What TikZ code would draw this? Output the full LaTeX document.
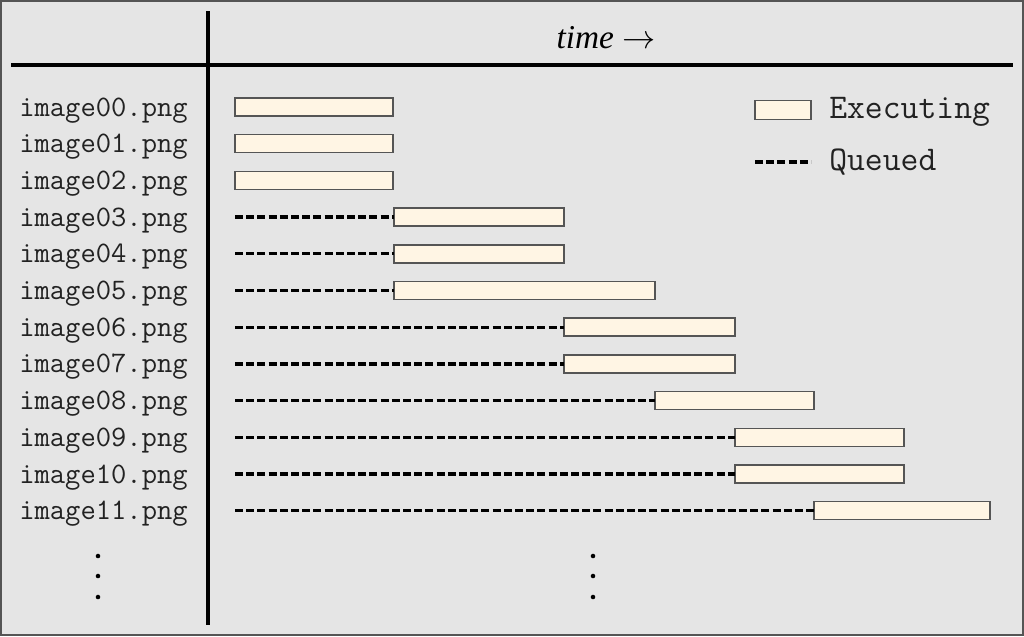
\documentclass[tikz,border=0pt]{standalone}
\usepackage{fontspec}
\setmainfont{Liberation Serif}
\definecolor{bgc}{RGB}{229,229,229}
\definecolor{framec}{RGB}{85,85,85}
\definecolor{barfill}{RGB}{255,245,228}
\definecolor{txtc}{RGB}{34,34,34}
\tikzset{
  bar/.style={draw=framec, fill=barfill, line width=1.1pt, inner sep=0pt, outer sep=0pt, minimum height=18*0.75pt},
  queued/.style={line width=2.5pt, dash pattern=on 6pt off 2.4pt},
  rule/.style={line width=2.3pt},
  rowlabel/.style={font=\ttfamily\fontsize{22.3}{24}\selectfont, text=txtc, inner sep=0pt, anchor=base west},
  legtext/.style={font=\ttfamily\fontsize{26}{28}\selectfont, text=txtc, inner sep=0pt, anchor=base west},
  dotmark/.style={circle, fill=black, inner sep=0pt, minimum size=3.4pt},
}
\begin{document}
\begin{tikzpicture}[x=0.75pt, y=-0.75pt]
  \path[fill=bgc, draw=framec, line width=1.2pt] (0.8,0.8) rectangle (1023.2,635.2);
  \useasboundingbox (0,0) rectangle (1024,636);
  % axes
  \coordinate (vtop) at (208,11);
  \coordinate (vbot) at (208,625);
  \coordinate (hl) at (11,65);
  \coordinate (hr) at (1013,65);
  \draw[rule] (vtop) -- (vbot);
  \draw[rule] (hl) -- (hr);
  \node[font=\itshape\fontsize{25}{26}\selectfont, anchor=base, inner sep=0pt] (time) at (606,48) {time \(\rightarrow\)};
  % rows
  \foreach \i/\s/\e in {0/235/393,1/235/393,2/235/393,3/394/564,4/394/564,5/394/655,6/564/735,7/564/735,8/655/814,9/735/904,10/735/904,11/814/990} {
    \pgfmathsetmacro\yy{107+36.7*\i}
    \pgfmathsetmacro\yb{116+36.7*\i}
    \node[bar, minimum width={(\e-\s)*0.75pt}, anchor=west] (b\i) at (\s,\yy) {};
    \coordinate (q\i) at (235,\yy);
    \node[rowlabel] (l\i) at (19,\yb) {image\ifnum\i<10 0\fi\i.png};
    \ifnum\s>235 \draw[queued] (q\i) -- (b\i.west); \fi
  }
  % legend
  \node[bar, minimum width={56*0.75pt}, minimum height={19*0.75pt}, anchor=west] (legbar) at (755,110) {};
  \node[legtext] (legexec) at (829,118) {Executing};
  \coordinate (legq1) at (755,162);
  \coordinate (legq2) at (811,162);
  \draw[queued] (legq1) -- (legq2);
  \node[legtext] (legqueued) at (829,170.5) {Queued};
  % dots
  \foreach \n/\yy in {1/556,2/576,3/597} {
    \node[dotmark] (dl\n) at (98,\yy) {};
    \node[dotmark] (dm\n) at (593,\yy) {};
  }
\end{tikzpicture}
\end{document}
